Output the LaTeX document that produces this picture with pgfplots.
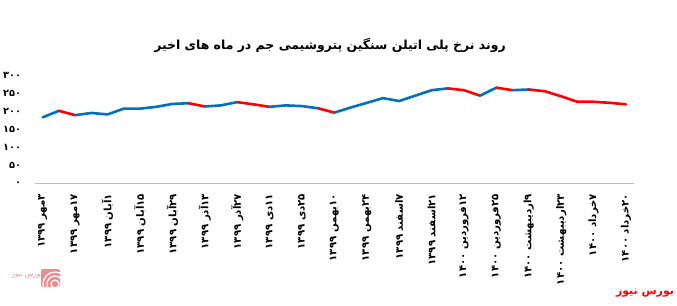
\documentclass[border=0pt]{standalone}
\usepackage{pgfplots}
\pgfplotsset{compat=1.18}
\usepackage{pgfplotstable}
\usepackage{fontspec}
\setmainfont{DejaVu Sans}
\newfontfamily\arabicfont[Script=Arabic]{DejaVu Sans}
\TeXXeTstate=1
\definecolor{lblue}{RGB}{0,112,192}
\definecolor{lred}{RGB}{255,0,0}
\definecolor{axgray}{RGB}{190,190,190}
\definecolor{logopink}{RGB}{236,140,140}
\pgfplotstableread{
x y
0 183
1 201
2 189
3 195
4 191
5 207
6 207
7 212
8 220
9 222
10 213
11 216
12 225
13 219
14 212
15 216
16 214
17 208
18 196
19 210
20 223
21 236
22 228
23 243
24 258
25 263
26 258
27 243
28 265
29 258
30 260
31 255
32 241
33 226
34 226
35 223
36 219
}\pricedata
\begin{document}
\begin{tikzpicture}[x=1bp,y=1bp]
\path[use as bounding box] (0,0) rectangle (677,-305);
\node[font=\arabicfont\bfseries\fontsize{12.5}{14}\selectfont] at (330,-45) {\beginR روند نرخ پلی اتیلن سنگین پتروشیمی جم در ماه های اخیر\endR};
\begin{axis}[
  at={(34.6bp,-183.5bp)}, anchor=south west,
  scale only axis, width=599.5bp, height=108.5bp,
  xmin=-0.5, xmax=36.5, ymin=0, ymax=300,
  axis x line*=bottom, axis y line=none,
  x axis line style={axgray, line width=1.4bp, -},
  xtick={0,2,...,36},
  major tick length=0pt,
  xticklabel style={rotate=90, anchor=east, font=\arabicfont\bfseries\fontsize{10.2}{10.2}\selectfont},
  xticklabels={
    {\beginR ۳مهر ۱۳۹۹\endR},
    {\beginR ۱۷مهر ۱۳۹۹\endR},
    {\beginR ۱آبان ۱۳۹۹\endR},
    {\beginR ۱۵آبان ۱۳۹۹\endR},
    {\beginR ۲۹آبان ۱۳۹۹\endR},
    {\beginR ۱۳آذر ۱۳۹۹\endR},
    {\beginR ۲۷آذر ۱۳۹۹\endR},
    {\beginR ۱۱دی ۱۳۹۹\endR},
    {\beginR ۲۵دی ۱۳۹۹\endR},
    {\beginR ۱۰بهمن ۱۳۹۹\endR},
    {\beginR ۲۴بهمن ۱۳۹۹\endR},
    {\beginR ۷اسفند ۱۳۹۹\endR},
    {\beginR ۲۱اسفند ۱۳۹۹\endR},
    {\beginR ۱۲فروردین ۱۴۰۰\endR},
    {\beginR ۲۵فروردین ۱۴۰۰\endR},
    {\beginR ۹اردیبهشت ۱۴۰۰\endR},
    {\beginR ۲۳اردیبهشت ۱۴۰۰\endR},
    {\beginR ۷خرداد ۱۴۰۰\endR},
    {\beginR ۲۰خرداد ۱۴۰۰\endR}},
  xticklabel shift=7bp,
  clip=false,
  unbounded coords=discard,
  every axis plot/.append style={line width=2.6bp, line join=round, line cap=round},
]
\addplot[axgray, line width=1.4bp, line cap=butt, forget plot] coordinates {(-0.5,0) (36.5,0)};
\addplot[lblue] table[x=x,y=y,restrict x to domain=0:1] {\pricedata};
\addplot[lred] table[x=x,y=y,restrict x to domain=1:2] {\pricedata};
\addplot[lblue] table[x=x,y=y,restrict x to domain=2:9] {\pricedata};
\addplot[lred] table[x=x,y=y,restrict x to domain=9:10] {\pricedata};
\addplot[lblue] table[x=x,y=y,restrict x to domain=10:12] {\pricedata};
\addplot[lred] table[x=x,y=y,restrict x to domain=12:14] {\pricedata};
\addplot[lblue] table[x=x,y=y,restrict x to domain=14:17] {\pricedata};
\addplot[lred] table[x=x,y=y,restrict x to domain=17:18] {\pricedata};
\addplot[lblue] table[x=x,y=y,restrict x to domain=18:25] {\pricedata};
\addplot[lred] table[x=x,y=y,restrict x to domain=25:27] {\pricedata};
\addplot[lblue] table[x=x,y=y,restrict x to domain=27:28] {\pricedata};
\addplot[lred] table[x=x,y=y,restrict x to domain=28:29] {\pricedata};
\addplot[lblue] table[x=x,y=y,restrict x to domain=29:30] {\pricedata};
\addplot[lred] table[x=x,y=y,restrict x to domain=30:36] {\pricedata};
\end{axis}
\begin{axis}[
  at={(34.6bp,-183.5bp)}, anchor=south west,
  scale only axis, width=599.5bp, height=108.5bp,
  xmin=-0.5, xmax=36.5, ymin=0, ymax=300,
  axis x line=none, axis y line*=left,
  y axis line style={draw=none},
  xtick=\empty,
  major tick length=0pt,
  ytick={0,50,100,150,200,250,300},
  yticklabels={۰,۵۰,۱۰۰,۱۵۰,۲۰۰,۲۵۰,۳۰۰},
  yticklabel style={font=\arabicfont\bfseries\fontsize{9.8}{9.8}\selectfont, anchor=east, xshift=-10bp},
]
\end{axis}
% logo
\fill[logopink, rounded corners=1.5bp] (41,-269) rectangle (60,-287);
\begin{scope}
\clip (41,-269) rectangle (60,-287);
\draw[white, line width=1.3bp] (55,-284) circle (4);
\draw[white, line width=1.3bp] (55,-284) circle (8);
\draw[white, line width=1.3bp] (55,-284) circle (12);
\end{scope}
\node[font=\arabicfont\fontsize{7}{7}\selectfont, text=logopink, inner sep=0pt] at (27,-276) {\beginR بورس نیوز\endR};
\node[font=\arabicfont\bfseries\fontsize{11}{12}\selectfont, text=lred, inner sep=0pt] at (645,-293) {\beginR بورس نیوز\endR};
\end{tikzpicture}
\end{document}
